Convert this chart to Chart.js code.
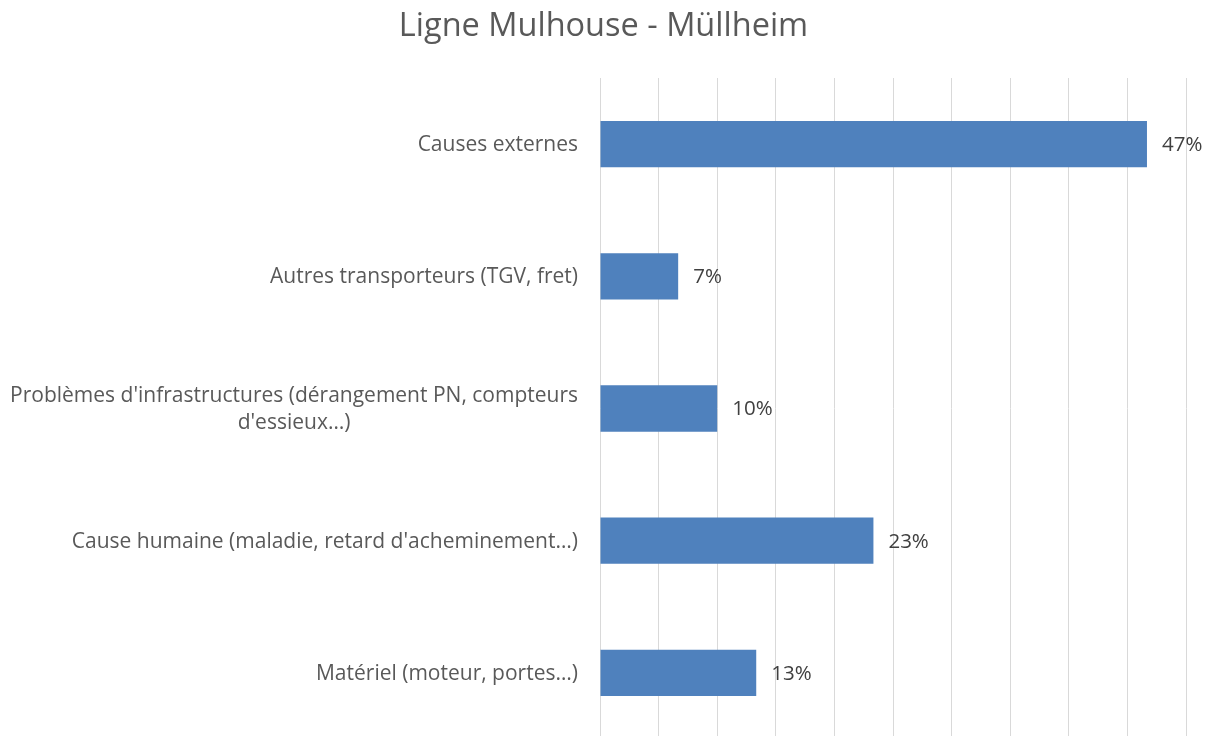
<!DOCTYPE html>
<html>
<head>
<meta charset="utf-8">
<script src="https://cdn.jsdelivr.net/npm/chart.js@4/dist/chart.umd.min.js"></script>
<style>
  html, body { margin: 0; padding: 0; background: #fff; overflow: hidden; }
  #wrap { width: 1207px; height: 745px; position: relative; }
</style>
</head>
<body>
<div id="wrap"><canvas id="c" width="1207" height="745"></canvas></div>
<script>
const chartTitle = 'Ligne Mulhouse - Müllheim';
const categories = [
  'Causes externes',
  'Autres transporteurs (TGV, fret)',
  ["Problèmes d'infrastructures (dérangement PN, compteurs", "d'essieux…)"],
  "Cause humaine (maladie, retard d'acheminement…)",
  'Matériel (moteur, portes…)'
];
const shares = [46.67, 6.67, 10.0, 23.33, 13.33];
const axisMin = 0;
const axisMax = 50;
const axisStep = 5;

const FONT = '"Open Sans", "DejaVu Sans", sans-serif';

const labelPlugin = {
  id: 'labelPlugin',
  afterDatasetsDraw(chart) {
    const ctx = chart.ctx;
    const yScale = chart.scales.y;
    const meta = chart.getDatasetMeta(0);
    ctx.save();
    // title centred on the whole canvas
    ctx.font = '32.5px ' + FONT;
    ctx.fillStyle = '#595959';
    ctx.textAlign = 'center';
    ctx.textBaseline = 'middle';
    ctx.fillText(chartTitle, chart.width / 2, 27);
    // category labels
    ctx.font = '21px ' + FONT;
    ctx.fillStyle = '#595959';
    const rightEdge = chart.chartArea.left - 22;
    const lh = 27;
    categories.forEach((lab, i) => {
      const lines = Array.isArray(lab) ? lab : [lab];
      const w = Math.max(...lines.map(l => ctx.measureText(l).width));
      const cx = rightEdge - w / 2;
      const yc = yScale.getPixelForValue(i) + 1;
      const y0 = yc - (lines.length - 1) * lh / 2;
      lines.forEach((l, k) => ctx.fillText(l, cx, y0 + k * lh));
    });
    // value labels
    ctx.font = '20.5px ' + FONT;
    ctx.fillStyle = '#404040';
    ctx.textAlign = 'left';
    meta.data.forEach((bar, i) => {
      ctx.fillText(Math.round(shares[i]) + '%', bar.x + 15, bar.y + 1);
    });
    ctx.restore();
  }
};

new Chart(document.getElementById('c'), {
  type: 'bar',
  data: {
    labels: categories,
    datasets: [{
      data: shares,
      backgroundColor: '#4f81bd',
      borderWidth: 0,
      categoryPercentage: 1,
      barPercentage: 0.35
    }]
  },
  options: {
    indexAxis: 'y',
    responsive: false,
    animation: false,
    layout: { padding: { left: 600, right: 21, bottom: 6, top: 78 } },
    plugins: {
      legend: { display: false },
      tooltip: { enabled: false },
      title: { display: false }
    },
    scales: {
      x: {
        min: axisMin,
        max: axisMax,
        ticks: { display: false, stepSize: axisStep },
        grid: { color: '#d9d9d9', lineWidth: 1, drawTicks: false },
        border: { display: false }
      },
      y: {
        display: false
      }
    }
  },
  plugins: [labelPlugin]
});
</script>
</body>
</html>
